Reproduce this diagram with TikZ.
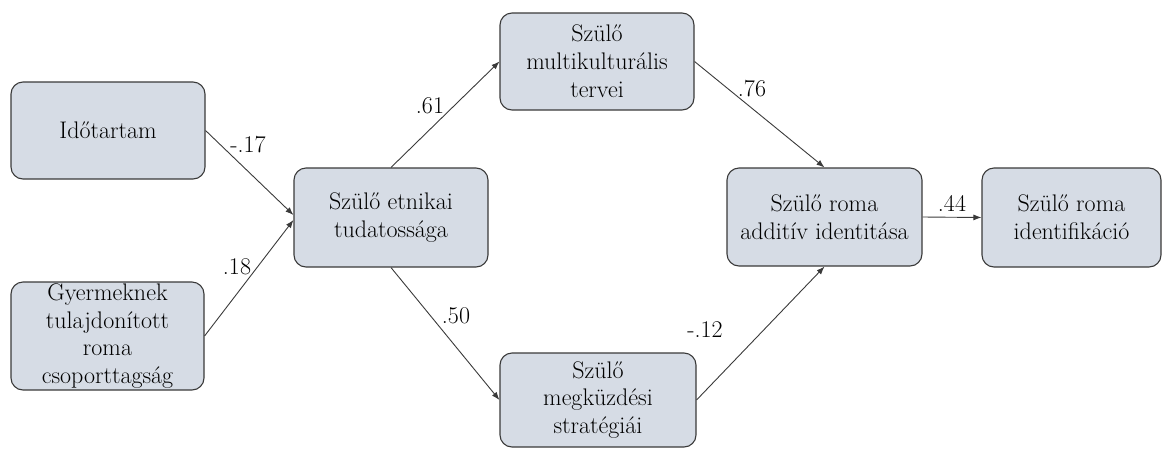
\documentclass[tikz,border=0pt]{standalone}
\usepackage{fontspec}
\usetikzlibrary{arrows.meta}
\definecolor{boxfill}{HTML}{D6DCE5}
\definecolor{boxline}{HTML}{3A3A3A}
\tikzset{
var/.style={shape=rectangle, rounded corners=12pt, draw=boxline, line width=1.1pt, fill=boxfill, align=center, inner sep=0pt, font=\fontsize{24}{27.8}\selectfont},
effect/.style={-{Latex[length=8pt, width=6pt]}, line width=0.9pt, draw=boxline},
coef/.style={font=\fontsize{24}{27.8}\selectfont, inner sep=1pt}}

\begin{document}
\begin{tikzpicture}[x=1pt, y=-1pt]
\useasboundingbox (0,0) rectangle (1163,448);
\node [var, minimum width=194pt, minimum height=97pt] at (108,130.5) (ido) {Időtartam};
\node [var, minimum width=193pt, minimum height=108pt] at (107.5,336) (gyer) {Gyermeknek\\tulajdonított\\roma\\csoporttagság};
\node [var, minimum width=194pt, minimum height=99pt] at (391,217.5) (etn) {Szülő etnikai\\tudatossága};
\node [var, minimum width=194pt, minimum height=97pt] at (597,61.5) (mult) {Szülő\\multikulturális\\tervei};
\node [var, minimum width=196pt, minimum height=94pt] at (598,400) (megk) {Szülő\\megküzdési\\stratégiái};
\node [var, minimum width=195pt, minimum height=98pt] at (824.5,217) (add) {Szülő roma\\additív identitása};
\node [var, minimum width=179pt, minimum height=99pt] at (1071.5,217.5) (ident) {Szülő roma\\identifikáció};
% paths
\draw [effect] (ido.east) -- ([yshift=2.5pt]etn.west);
\draw [effect] (gyer.east) -- ([yshift=-2.5pt]etn.west);
\draw [effect] (etn.north) -- (mult.west);
\draw [effect] (etn.south) -- (megk.west);
\draw [effect] (mult.east) -- (add.north);
\draw [effect] (megk.east) -- (add.south);
\draw [effect] (add.east) -- (ident.west);
% coefficients
\foreach \w/\p [count=\i] in {-.17/{(248,145)}, .18/{(237,267)}, .61/{(430,106)}, .50/{(456,316)}, .76/{(752,89)}, -.12/{(705,330)}, .44/{(952,203)}}
  \node [coef] (w-\i) at \p {\w};
\end{tikzpicture}
\end{document}
